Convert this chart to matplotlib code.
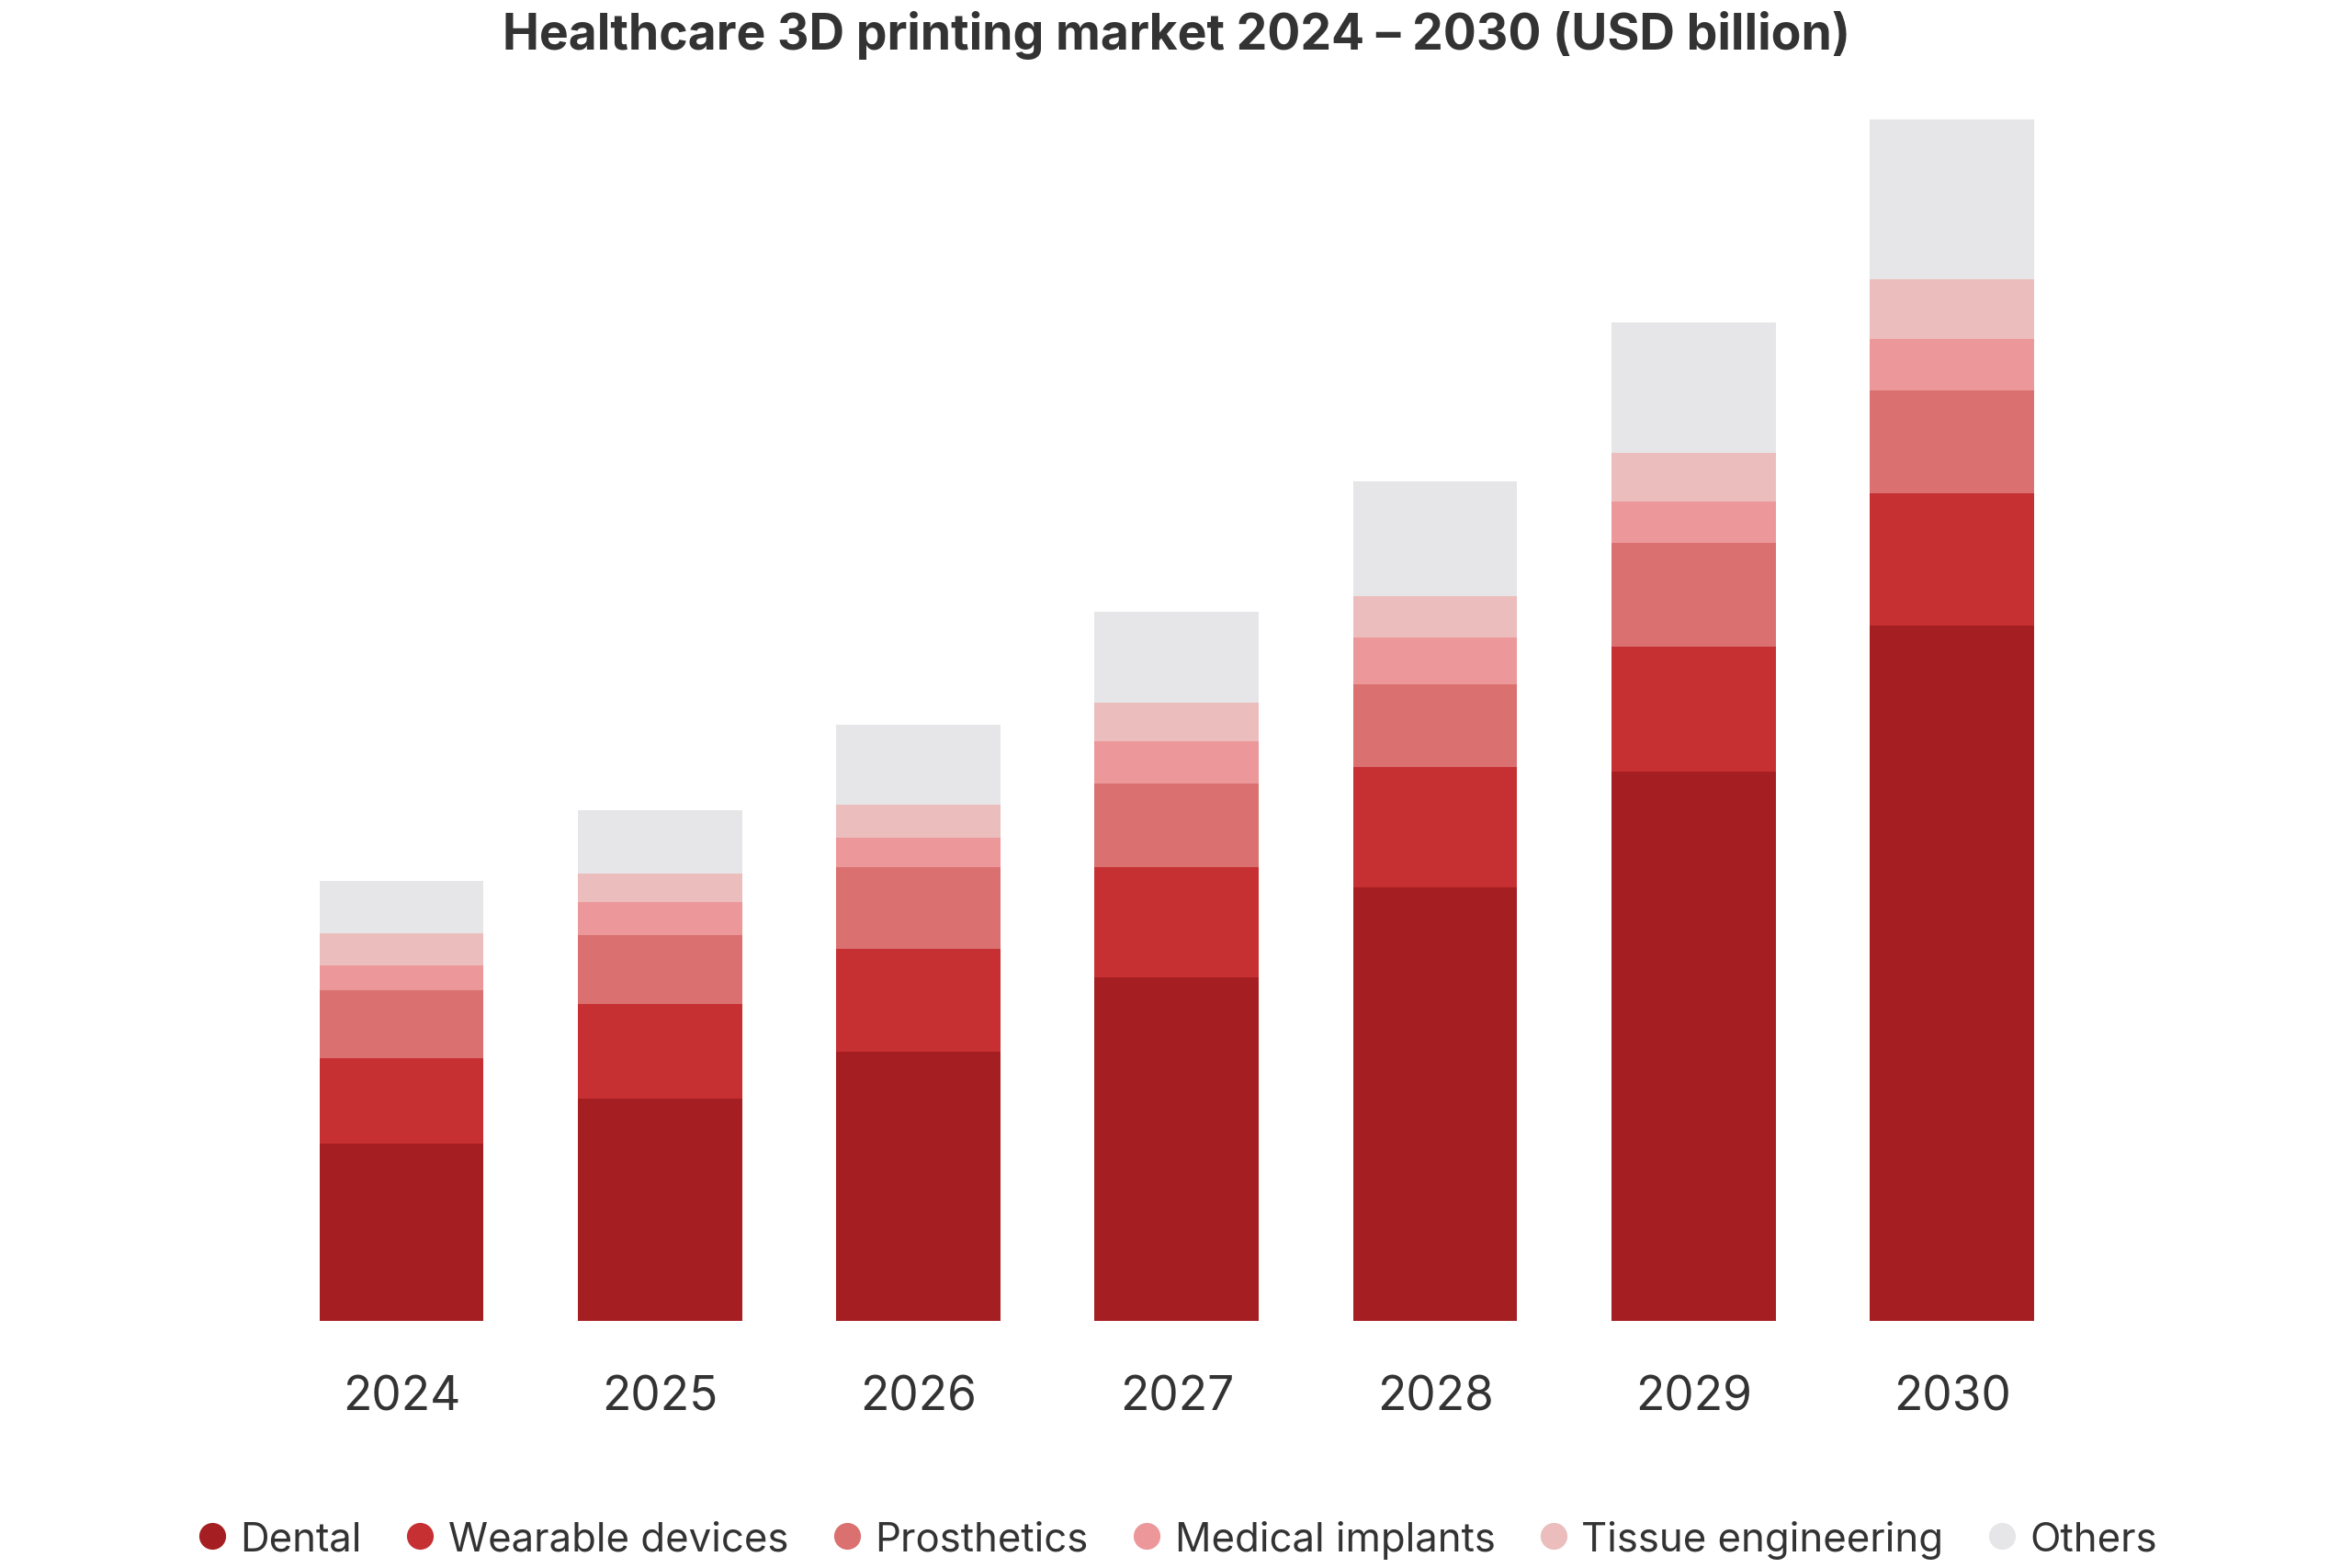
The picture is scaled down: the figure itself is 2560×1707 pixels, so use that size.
import matplotlib.pyplot as plt
import numpy as np

plt.rcParams['font.family'] = ['Inter', 'DejaVu Sans']

years = ['2024', '2025', '2026', '2027', '2028', '2029', '2030']
segments = ['Dental', 'Wearable devices', 'Prosthetics', 'Medical implants',
            'Tissue engineering', 'Others']

# USD billion
dental = [1.18, 1.48, 1.79, 2.29, 2.89, 3.66, 4.63]
wearable = [0.57, 0.63, 0.69, 0.73, 0.80, 0.83, 0.88]
prosthetics = [0.45, 0.46, 0.54, 0.56, 0.55, 0.69, 0.69]
implants = [0.17, 0.22, 0.20, 0.28, 0.31, 0.28, 0.34]
tissue = [0.21, 0.19, 0.22, 0.26, 0.28, 0.32, 0.40]
others = [0.35, 0.42, 0.53, 0.60, 0.76, 0.87, 1.06]

series = [dental, wearable, prosthetics, implants, tissue, others]
colors = ['#A51E22', '#C63033', '#DA7070', '#EC9799', '#EBBDBD', '#E6E6E8']

fig = plt.figure(figsize=(25.6, 17.08), dpi=100)
ax = fig.add_axes([0.0718, 0.1576, 0.857, 0.7922])

x = np.arange(len(years))
bottom = np.zeros(len(years))
for vals, col, name in zip(series, colors, segments):
    ax.bar(x, vals, width=0.635, bottom=bottom, color=col, label=name,
           edgecolor='none')
    bottom += np.array(vals)

ax.set_xlim(-0.9, 6.9)
ax.set_ylim(0, 8.28)
for s in ax.spines.values():
    s.set_visible(False)
ax.set_yticks([])
ax.set_xticks(x)
ax.set_xticklabels(years, fontsize=37, color='#333333')
ax.tick_params(axis='x', length=0, pad=42)

fig.suptitle('Healthcare 3D printing market 2024 \u2013 2030 (USD billion)',
             fontsize=38.5, fontweight='bold', color='#333333', y=0.993, va='top',
             x=0.5003)

handles = [plt.Line2D([], [], marker='o', linestyle='none', markersize=21,
                      markerfacecolor=c, markeredgecolor='none') for c in colors]
fig.legend(handles, segments, loc='center', bbox_to_anchor=(0.5003, 0.0183),
           ncol=6, frameon=False, fontsize=31.5, handlelength=0.8,
           handletextpad=0.3, columnspacing=1.05, labelcolor='#333333')

fig.savefig('out.png', dpi=100)
